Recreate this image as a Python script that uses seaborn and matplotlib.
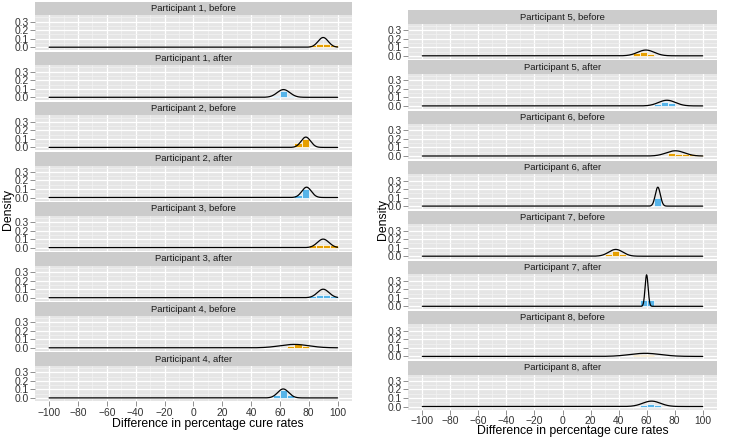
import numpy as np
import matplotlib
matplotlib.use("Agg")
import matplotlib.pyplot as plt
import seaborn as sns

# ==========================
# Data
# ==========================

participants = [1, 1, 2, 2, 3, 3, 4, 4, 5, 5, 6, 6, 7, 7, 8, 8]
phases = ["before", "after"] * 8

# fitted curve for each panel: mode and spread
curve_mode = [90, 62.5, 78, 78.5, 90, 90, 70, 62.3,
              59.5, 74.5, 80.5, 68, 38, 60, 59, 63.5]
curve_sd = [3.5, 4.4, 3.3, 3.3, 4.0, 4.0, 10, 3.8,
            5.9, 6.0, 6.5, 1.8, 5.0, 1.08, 11, 6.3]

# histogram bars: left edge of each 5-point bin and its height
bar_left = [
    [80, 85, 90, 95], [55, 60, 65], [70, 75], [70, 75],
    [80, 85, 90, 95], [80, 85, 90, 95], [65, 70, 75], [55, 60, 65],
    [50, 55, 60], [65, 70, 75], [75, 80, 85, 90, 95], [65],
    [30, 35, 40], [55, 60], [50, 55, 60], [55, 60, 65],
]
bar_height = [
    [0.03, 0.035, 0.035, 0.03], [0.02, 0.07, 0.02], [0.05, 0.1], [0.03, 0.1],
    [0.03, 0.035, 0.035, 0.03], [0.025, 0.03, 0.03, 0.025], [0.02, 0.04, 0.02], [0.03, 0.09, 0.03],
    [0.03, 0.04, 0.02], [0.02, 0.04, 0.03], [0.04, 0.02, 0.02, 0.02, 0.015], [0.09],
    [0.025, 0.06, 0.025], [0.07, 0.07], [0.015, 0.02, 0.015], [0.02, 0.035, 0.02],
]

phase_colors = {"before": "#E69F00", "after": "#56B4E9"}

# ==========================
# Style
# ==========================

sns.set_theme(style="darkgrid", rc={
    "axes.facecolor": "#E5E5E5",
    "grid.color": "white",
})
plt.rcParams["font.family"] = ["Liberation Sans", "DejaVu Sans"]

W, H = 729, 438
fig = plt.figure(figsize=(W / 100, H / 100), dpi=100)


def box(x0, y0, x1, y1):
    # pixel box (top-left origin) -> figure fraction
    return [x0 / W, 1 - y1 / H, (x1 - x0) / W, (y1 - y0) / H]


columns = [
    dict(x0=34.7, x1=352.0, top=1.7, ylab=(8, 210), xlab=(208, 424)),
    dict(x0=408.3, x1=716.7, top=10.3, ylab=(383, 220), xlab=(573, 431)),
]
pitch = 50.1
strip_h = 13.5
plot_h = 35.0

x_grid = np.linspace(-100, 100, 2001)

for i in range(16):
    col = columns[i // 8]
    row = i % 8
    top = col["top"] + pitch * row

    # strip
    sax = fig.add_axes(box(col["x0"], top, col["x1"], top + strip_h))
    sax.set_facecolor("#CCCCCC")
    sax.grid(False)
    sax.set_xticks([])
    sax.set_yticks([])
    for s in sax.spines.values():
        s.set_visible(False)
    sax.text(0.5, 0.5, f"Participant {participants[i]}, {phases[i]}",
             ha="center", va="center", fontsize=6.8, color="#1A1A1A",
             transform=sax.transAxes)

    # panel
    ax = fig.add_axes(box(col["x0"], top + strip_h, col["x1"], top + strip_h + plot_h))
    colr = phase_colors[phases[i]]
    centers = [b + 2.5 for b in bar_left[i]]
    sns.histplot(x=centers, weights=bar_height[i], binwidth=5,
                 binrange=(min(bar_left[i]), max(bar_left[i]) + 5),
                 stat="count", color=colr, alpha=1, edgecolor="white",
                 linewidth=0.5, ax=ax)

    dens = np.exp(-0.5 * ((x_grid - curve_mode[i]) / curve_sd[i]) ** 2) / (curve_sd[i] * np.sqrt(2 * np.pi))
    sns.lineplot(x=x_grid, y=dens, color="black", linewidth=0.9, ax=ax)

    ax.set_xlim(-110, 110)
    ax.set_ylim(-0.035, 0.375)
    ax.set_xticks(np.arange(-100, 101, 20))
    ax.set_xticks(np.arange(-90, 100, 20), minor=True)
    ax.set_yticks([0.0, 0.1, 0.2, 0.3])
    ax.set_yticks([0.05, 0.15, 0.25, 0.35], minor=True)
    ax.set_yticklabels(["0.0", "0.1", "0.2", "0.3"])
    ax.grid(which="major", color="white", linewidth=0.9)
    ax.grid(which="minor", color="#F2F2F2", linewidth=0.5)
    ax.set_axisbelow(True)
    for s in ax.spines.values():
        s.set_visible(False)
    ax.set_xlabel("")
    ax.set_ylabel("")
    ax.tick_params(axis="y", which="major", left=True, length=3.5, width=0.6,
                   color="#7F7F7F", labelsize=7.4, labelcolor="#333333", pad=1)
    ax.tick_params(axis="x", which="major", bottom=(row == 7), length=3.5, width=0.6,
                   color="#7F7F7F", labelsize=7.4, labelcolor="#333333", pad=1.5,
                   labelbottom=(row == 7))
    ax.tick_params(which="minor", left=False, bottom=False)
    if row == 7:
        ax.set_xticklabels([f"{v:d}".replace("-", "\u2212") for v in range(-100, 101, 20)])

for col in columns:
    fig.text(col["ylab"][0] / W, 1 - col["ylab"][1] / H, "Density", rotation=90,
             ha="center", va="center", fontsize=8.8, color="black")
    fig.text(col["xlab"][0] / W, 1 - col["xlab"][1] / H, "Difference in percentage cure rates",
             ha="center", va="center", fontsize=8.8, color="black")

fig.savefig("out.png", dpi=100, facecolor="white")
